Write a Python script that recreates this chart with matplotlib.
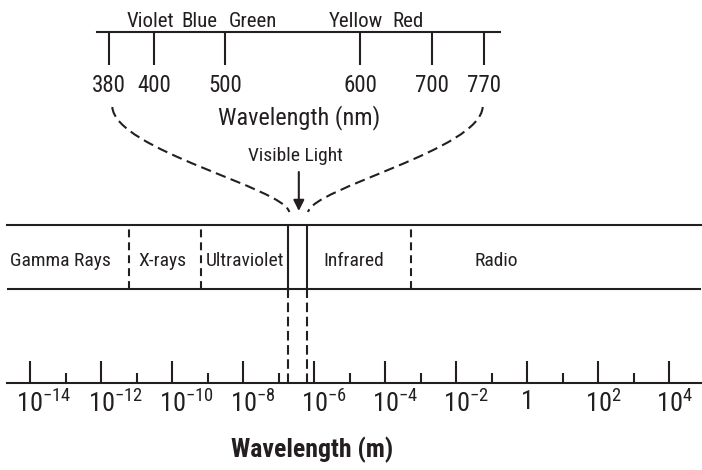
import numpy as np
import matplotlib
matplotlib.use("Agg")
import matplotlib.pyplot as plt
from matplotlib import font_manager
from matplotlib.path import Path
from matplotlib.patches import PathPatch
from matplotlib.transforms import ScaledTranslation

# visible light ruler (nm); the ruler in the diagram is not to scale,
# so the tick places are read off the picture
nm_ticks = [380, 400, 500, 600, 700, 770]
nm_tick_pos = [109.3, 154.3, 225.0, 360.0, 431.7, 484.3]
colour_names = ["Violet", "Blue", "Green", "Yellow", "Red"]
colour_pos = [150.8, 199.0, 252.5, 355.8, 408.0]

# full spectrum, log10(wavelength / m)
major_exp = [-14, -12, -10, -8, -6, -4, -2, 0, 2, 4]
minor_exp = [-13, -11, -9, -7, -5, -3, -1, 1, 3]
bands = ["Gamma Rays", "X-rays", "Ultraviolet", "Infrared", "Radio"]
band_label_exp = [-13.15, -10.27, -7.95, -4.88, -0.88]
edge_exp = [-11.2, -9.19, -6.73, -6.19, -3.28]
edge_visible = [False, False, True, True, False]

W, H = 702, 470
ink = "#231f20"

names = {f.name for f in font_manager.fontManager.ttflist}
font = "DejaVu Sans"
for cand in ["Liberation Sans Narrow", "Roboto Condensed", "Open Sans Condensed"]:
    if cand in names:
        font = cand
        break
plt.rcParams["font.family"] = [font, "DejaVu Sans"]
plt.rcParams["mathtext.fontset"] = "custom"
plt.rcParams["mathtext.rm"] = font
plt.rcParams["text.color"] = ink


def rect(x0, y0, x1, y1):
    # pixel box (y down) -> figure fraction
    return [x0 / W, 1 - y1 / H, (x1 - x0) / W, (y1 - y0) / H]


fig = plt.figure(figsize=(W / 100, H / 100), dpi=100)

# ---- top ruler (a very flat axes sitting on the ruler line)
axn = fig.add_axes(rect(97.3, 31.8, 500, 32.3))
axn.set_xlim(97.3, 500)
axn.set_ylim(0, 1)
for s in ["top", "left", "right"]:
    axn.spines[s].set_visible(False)
axn.spines["bottom"].set_linewidth(1.5)
axn.spines["bottom"].set_color(ink)
axn.set_yticks([])
axn.set_xticks(nm_tick_pos)
axn.set_xticklabels([str(v) for v in nm_ticks])
axn.set_xticks(colour_pos, minor=True)
axn.set_xticklabels(colour_names, minor=True)
axn.tick_params(axis="x", which="major", direction="out", length=23.5, width=1.5,
                color=ink, labelsize=16.5, pad=6.5, top=False, bottom=True,
                labeltop=False, labelbottom=True, labelcolor=ink)
axn.tick_params(axis="x", which="minor", length=0, labelsize=15, pad=0.5,
                top=True, bottom=False, labeltop=True, labelbottom=False,
                labelcolor=ink)
axn.patch.set_visible(False)

# ---- spectrum band + log ruler
axs = fig.add_axes(rect(7.3, 225, 701, 383))
axs.set_xscale("log")
axs.set_xlim(10 ** -14.639, 10 ** 4.891)
axs.set_ylim(0, 1)
for s in ["left", "right"]:
    axs.spines[s].set_visible(False)
for s in ["top", "bottom"]:
    axs.spines[s].set_linewidth(1.5)
    axs.spines[s].set_color(ink)
axs.set_yticks([])
axs.xaxis.set_ticks_position("bottom")
axs.set_xticks([10.0 ** e for e in major_exp])
axs.set_xticklabels(["1" if e == 0 else r"$\mathregular{10^{%d}}$" % e for e in major_exp])
axs.set_xticks([10.0 ** e for e in minor_exp], minor=True)
axs.set_xticklabels([], minor=True)
axs.tick_params(axis="x", which="major", direction="in", length=16, width=1.5,
                color=ink, labelsize=19, pad=5, labelcolor=ink)
axs.tick_params(axis="x", which="minor", direction="in", length=7, width=1.5, color=ink)
axs.patch.set_visible(False)
# the "10" sits centred under its tick, the exponent hangs to the right
shift = ScaledTranslation(-13.5 / 100, 0, fig.dpi_scale_trans)
for e, lab in zip(major_exp, axs.get_xticklabels()):
    if e != 0:
        lab.set_horizontalalignment("left")
        lab.set_transform(lab.get_transform() + shift)

band_low = (383 - 289.3) / (383 - 225)
axs.axhline(band_low, color=ink, lw=1.5)
for e, vis in zip(edge_exp, edge_visible):
    if vis:
        axs.plot([10 ** e] * 2, [band_low, 1], color=ink, lw=1.5)
        axs.plot([10 ** e] * 2, [0, band_low], color=ink, lw=1.5,
                 ls=(0, (4.6, 2.2)))
    else:
        axs.plot([10 ** e] * 2, [band_low, 1], color=ink, lw=1.5,
                 ls=(0, (3.8, 2.4)))
for name, e in zip(bands, band_label_exp):
    axs.text(10 ** e, 0.772, name, ha="center", va="center", fontsize=14)

# ---- overlay in pixel units for the connecting curves and labels
ax = fig.add_axes([0, 0, 1, 1])
ax.set_xlim(0, W)
ax.set_ylim(H, 0)
ax.axis("off")


def px(a, x, y):
    d = a.transData.transform((x, y))
    return d[0], H - d[1]


x380, _ = px(axn, nm_tick_pos[0], 0)
x770, _ = px(axn, nm_tick_pos[-1], 0)
xv0, _ = px(axs, 10 ** edge_exp[2], 1)
xv1, _ = px(axs, 10 ** edge_exp[3], 1)

y0, y1 = 107, 212
dash = (0, (5, 2.6))
for xs, xe, sgn in [(x380 + 3, xv0 + 1, 1), (x770 - 1.6, xv1 + 0.7, -1)]:
    verts = [(xs, y0), (xs + sgn * 3, y0 + 43), (xe - sgn * 5, y1 - 24), (xe, y1)]
    path = Path(verts, [Path.MOVETO, Path.CURVE4, Path.CURVE4, Path.CURVE4])
    ax.add_patch(PathPatch(path, fill=False, lw=1.5, ec=ink, ls=dash))

xa = (xv0 + xv1) / 2 + 1
ax.annotate("", xy=(xa, 211), xytext=(xa, 172),
            arrowprops=dict(arrowstyle="-|>", lw=1.5, color=ink,
                            mutation_scale=16, shrinkA=0, shrinkB=0))
ax.text(xa - 3, 156, "Visible Light", ha="center", va="center", fontsize=14)
ax.text((97.3 + 500) / 2, 118, "Wavelength (nm)", ha="center", va="center",
        fontsize=17.5)
ax.text(312, 450, "Wavelength (m)", ha="center", va="center", fontsize=18.5,
        fontweight="bold")

fig.savefig("out.png", dpi=100)
